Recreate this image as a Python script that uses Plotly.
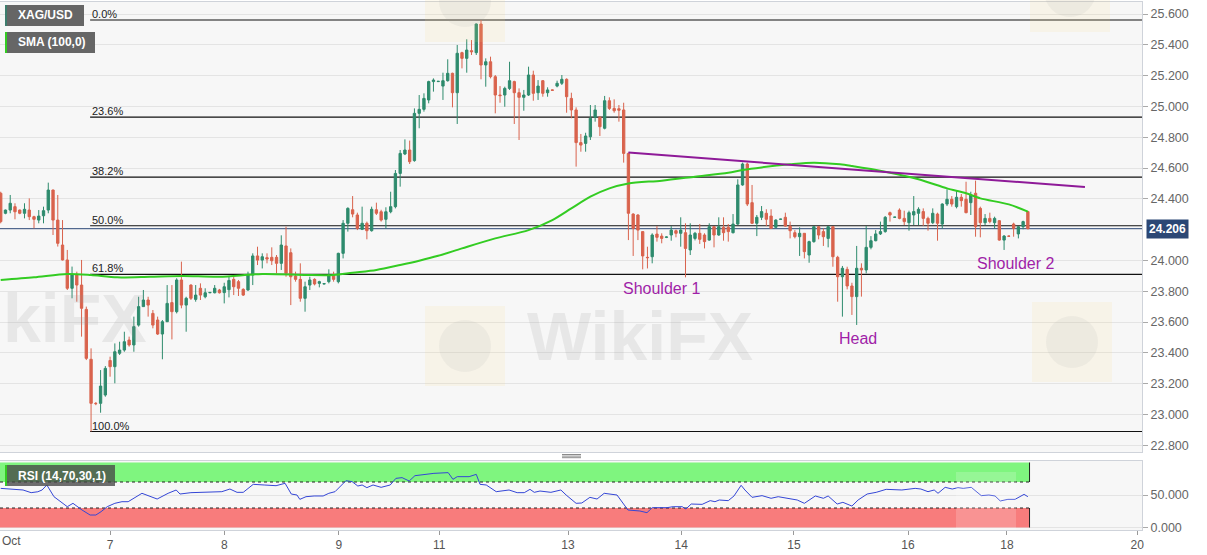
import plotly.graph_objects as go

# ---------------- data ----------------
tick_pos = [23.0, 47.0, 71.1, 92.2, 119.3, 143.1, 166.8, 190.8, 211.6, 239.0]
tick_text = ["7", "8", "9", "11", "13", "14", "15", "16", "18", "20"]
first_tick_label = "Oct"

open_ = [
    24.436, 24.306, 24.327, 24.349, 24.327, 24.306, 24.327, 24.284, 24.262, 24.290,
    24.327, 24.457, 24.262, 24.100, 24.003, 23.819, 23.905, 23.840, 23.682, 23.358,
    23.072, 23.072, 23.126, 23.350, 23.310, 23.397, 23.418, 23.483, 23.451, 23.580,
    23.700, 23.743, 23.656, 23.613, 23.522, 23.602, 23.726, 23.667, 23.873, 23.710,
    23.840, 23.747, 23.819, 23.764, 23.790, 23.790, 23.808, 23.791, 23.810, 23.877,
    23.862, 23.812, 23.808, 23.905, 24.029, 24.002, 24.018, 24.020, 24.020, 23.981,
    24.094, 24.050, 23.899, 23.877, 23.754, 23.840, 23.877, 23.851, 23.847, 23.862,
    23.905, 23.862, 24.046, 24.241, 24.329, 24.295, 24.202, 24.241, 24.193, 24.329,
    24.316, 24.267, 24.316, 24.349, 24.565, 24.691, 24.717, 24.648, 24.955, 24.981,
    25.042, 25.161, 25.161, 25.132, 25.167, 25.215, 25.089, 25.349, 25.312, 25.362,
    25.349, 25.535, 25.269, 25.290, 25.193, 25.074, 25.074, 25.117, 25.161, 25.089,
    25.059, 25.074, 25.204, 25.089, 25.167, 25.089, 25.107, 25.132, 25.150, 25.176,
    25.052, 24.977, 24.765, 24.760, 24.803, 24.929, 24.929, 24.858, 25.037, 24.987,
    24.985, 24.977, 24.695, 24.301, 24.295, 24.187, 24.020, 24.024, 24.171, 24.158,
    24.150, 24.165, 24.193, 24.176, 24.180, 24.068, 24.143, 24.176, 24.165, 24.132,
    24.219, 24.165, 24.215, 24.215, 24.180, 24.236, 24.490, 24.626, 24.375, 24.241,
    24.280, 24.306, 24.288, 24.215, 24.267, 24.280, 24.223, 24.180, 24.154, 24.176,
    24.035, 24.122, 24.219, 24.187, 24.143, 24.219, 24.020, 23.894, 23.942, 23.834,
    23.765, 23.949, 23.938, 24.085, 24.128, 24.172, 24.187, 24.310, 24.280, 24.327,
    24.273, 24.245, 24.295, 24.306, 24.317, 24.273, 24.245, 24.301, 24.236, 24.366,
    24.397, 24.349, 24.410, 24.397, 24.375, 24.436, 24.338, 24.245, 24.273, 24.245,
    24.258, 24.132, 24.158, 24.236, 24.172, 24.219, 24.317,
]
high = [
    24.446, 24.330, 24.425, 24.371, 24.330, 24.371, 24.403, 24.290, 24.327, 24.349,
    24.505, 24.460, 24.425, 24.262, 24.068, 23.960, 23.927, 24.003, 23.700, 23.429,
    23.080, 23.288, 23.314, 23.375, 23.461, 23.472, 23.537, 23.505, 23.635, 23.764,
    23.808, 23.764, 23.678, 23.635, 23.613, 23.840, 23.840, 23.884, 23.992, 23.764,
    23.845, 23.840, 23.851, 23.819, 23.795, 23.840, 23.815, 23.855, 23.899, 23.894,
    23.873, 23.819, 23.927, 24.046, 24.089, 24.046, 24.046, 24.085, 24.035, 24.163,
    24.219, 24.078, 23.927, 23.981, 23.862, 23.894, 23.884, 23.868, 23.850, 23.942,
    23.927, 24.050, 24.262, 24.345, 24.418, 24.310, 24.349, 24.252, 24.349, 24.375,
    24.329, 24.345, 24.446, 24.587, 24.717, 24.786, 24.778, 24.987, 25.074, 25.085,
    25.167, 25.182, 25.165, 25.219, 25.306, 25.219, 25.399, 25.355, 25.436, 25.431,
    25.539, 25.561, 25.312, 25.323, 25.204, 25.132, 25.128, 25.290, 25.167, 25.117,
    25.107, 25.258, 25.232, 25.171, 25.171, 25.124, 25.110, 25.167, 25.204, 25.182,
    25.089, 24.994, 24.821, 24.829, 25.009, 25.009, 24.938, 25.068, 25.059, 25.046,
    25.009, 25.024, 24.700, 24.306, 24.300, 24.187, 24.089, 24.176, 24.223, 24.176,
    24.155, 24.223, 24.200, 24.280, 24.241, 24.241, 24.185, 24.236, 24.176, 24.241,
    24.223, 24.280, 24.280, 24.236, 24.301, 24.527, 24.635, 24.635, 24.490, 24.295,
    24.353, 24.332, 24.332, 24.267, 24.270, 24.310, 24.252, 24.197, 24.215, 24.176,
    24.128, 24.223, 24.223, 24.208, 24.223, 24.223, 24.030, 23.964, 23.959, 23.855,
    24.094, 23.981, 24.223, 24.158, 24.197, 24.252, 24.288, 24.317, 24.283, 24.338,
    24.323, 24.323, 24.418, 24.345, 24.338, 24.284, 24.338, 24.310, 24.371, 24.462,
    24.418, 24.457, 24.431, 24.511, 24.446, 24.518, 24.349, 24.301, 24.310, 24.284,
    24.262, 24.165, 24.161, 24.245, 24.223, 24.258, 24.317,
]
low = [
    24.241, 24.300, 24.306, 24.267, 24.300, 24.273, 24.262, 24.208, 24.241, 24.241,
    24.306, 24.165, 24.090, 24.000, 23.808, 23.754, 23.732, 23.505, 23.353, 22.889,
    23.060, 23.011, 23.115, 23.245, 23.202, 23.386, 23.407, 23.440, 23.407, 23.570,
    23.700, 23.635, 23.559, 23.516, 23.358, 23.600, 23.487, 23.656, 23.689, 23.537,
    23.743, 23.732, 23.743, 23.754, 23.787, 23.786, 23.785, 23.721, 23.760, 23.775,
    23.769, 23.769, 23.803, 23.840, 23.970, 23.948, 23.981, 23.970, 23.916, 23.938,
    23.894, 23.710, 23.862, 23.732, 23.667, 23.808, 23.838, 23.825, 23.845, 23.851,
    23.862, 23.851, 24.013, 24.187, 24.280, 24.197, 24.197, 24.137, 24.187, 24.295,
    24.252, 24.208, 24.306, 24.338, 24.479, 24.684, 24.626, 24.641, 24.858, 24.966,
    25.020, 25.096, 25.159, 25.042, 25.161, 24.994, 24.886, 25.247, 25.219, 25.334,
    25.334, 25.176, 25.128, 25.182, 24.955, 25.024, 24.998, 25.107, 24.886, 24.782,
    24.972, 25.068, 25.037, 25.042, 25.063, 25.063, 25.100, 25.124, 25.139, 24.959,
    24.923, 24.609, 24.706, 24.706, 24.782, 24.901, 24.808, 24.851, 24.977, 24.959,
    24.901, 24.635, 24.132, 24.029, 24.132, 23.942, 23.948, 23.981, 24.122, 24.111,
    24.145, 24.128, 24.150, 24.089, 23.890, 24.035, 24.130, 24.107, 24.078, 24.128,
    24.085, 24.160, 24.128, 24.122, 24.175, 24.230, 24.485, 24.353, 24.236, 24.158,
    24.262, 24.223, 24.208, 24.208, 24.264, 24.219, 24.143, 24.143, 24.029, 24.013,
    23.985, 24.115, 24.137, 24.094, 24.085, 23.959, 23.732, 23.635, 23.812, 23.646,
    23.581, 23.765, 23.916, 24.072, 24.124, 24.165, 24.180, 24.252, 24.277, 24.267,
    24.230, 24.193, 24.230, 24.230, 24.224, 24.193, 24.236, 24.128, 24.208, 24.353,
    24.349, 24.338, 24.349, 24.306, 24.295, 24.154, 24.150, 24.230, 24.241, 24.208,
    24.128, 24.068, 24.155, 24.154, 24.143, 24.202, 24.202,
]
close = [
    24.252, 24.327, 24.371, 24.316, 24.306, 24.332, 24.284, 24.267, 24.288, 24.323,
    24.457, 24.262, 24.111, 24.003, 23.819, 23.905, 23.840, 23.689, 23.364, 23.072,
    23.070, 23.184, 23.299, 23.310, 23.407, 23.418, 23.472, 23.451, 23.570, 23.700,
    23.743, 23.710, 23.580, 23.522, 23.602, 23.721, 23.667, 23.873, 23.710, 23.754,
    23.754, 23.775, 23.775, 23.790, 23.792, 23.819, 23.790, 23.829, 23.870, 23.829,
    23.819, 23.775, 23.905, 24.029, 24.002, 24.024, 24.009, 23.998, 23.981, 24.100,
    23.916, 23.894, 23.877, 23.754, 23.829, 23.873, 23.847, 23.862, 23.849, 23.905,
    23.877, 24.046, 24.241, 24.338, 24.301, 24.208, 24.241, 24.193, 24.332, 24.306,
    24.262, 24.316, 24.349, 24.565, 24.695, 24.717, 24.641, 24.955, 24.981, 25.052,
    25.161, 25.171, 25.163, 25.167, 25.215, 25.089, 25.345, 25.312, 25.366, 25.355,
    25.535, 25.269, 25.290, 25.193, 25.074, 25.070, 25.117, 25.167, 25.089, 25.059,
    25.074, 25.204, 25.085, 25.132, 25.085, 25.107, 25.105, 25.150, 25.176, 25.063,
    24.977, 24.765, 24.749, 24.808, 24.923, 24.977, 24.868, 25.037, 24.987, 24.972,
    24.975, 24.695, 24.306, 24.208, 24.197, 24.029, 24.018, 24.165, 24.150, 24.143,
    24.152, 24.197, 24.176, 24.197, 24.078, 24.165, 24.176, 24.137, 24.122, 24.219,
    24.165, 24.219, 24.180, 24.187, 24.236, 24.490, 24.626, 24.366, 24.241, 24.280,
    24.317, 24.267, 24.208, 24.262, 24.268, 24.223, 24.193, 24.154, 24.176, 24.057,
    24.122, 24.219, 24.165, 24.154, 24.219, 24.024, 23.894, 23.949, 23.834, 23.765,
    23.949, 23.938, 24.085, 24.128, 24.172, 24.187, 24.280, 24.295, 24.281, 24.273,
    24.252, 24.310, 24.317, 24.332, 24.273, 24.241, 24.306, 24.241, 24.366, 24.397,
    24.366, 24.410, 24.388, 24.310, 24.425, 24.219, 24.245, 24.273, 24.252, 24.273,
    24.132, 24.158, 24.157, 24.208, 24.219, 24.252, 24.206,
]

# SMA(100) at sample candle positions
sma_x = [0, 7, 14, 19, 24.5, 31.4, 38.3, 46, 55, 64.4, 70, 74, 79, 84, 88, 92, 97,
         104, 111, 116, 120, 124, 128, 132, 139, 146, 153, 156, 160, 166, 171,
         176.5, 179, 186, 193, 199, 203, 206, 212, 216]
sma_v = [23.873, 23.89, 23.912, 23.905, 23.89, 23.894, 23.899, 23.894, 23.912,
         23.905, 23.905, 23.92, 23.938, 23.97, 23.998, 24.03, 24.078, 24.143,
         24.197, 24.262, 24.338, 24.414, 24.468, 24.50, 24.518, 24.544, 24.57,
         24.587, 24.604, 24.624, 24.635, 24.624, 24.613, 24.576, 24.527, 24.468,
         24.436, 24.403, 24.364, 24.317]

# RSI(14)
rsi_x = [0, 3.0, 4.7, 6.4, 7.8, 8.7, 9.7, 11.2, 14.0, 15.2,
         17.1, 18.8, 20.0, 21.1, 22.4, 24.0, 25.5, 26.8, 29.7, 32.9,
         35.2, 36.9, 37.7, 40.0, 44.8, 46.5, 48.2, 49.7, 51.0, 53.1,
         55.4, 57.9, 59.8, 61.1, 62.3, 62.9, 64.2, 65.9, 67.8, 69.0,
         70.3, 72.6, 73.9, 75.1, 76.0, 77.0, 78.3, 80.0, 81.9, 83.1,
         84.4, 85.9, 87.1, 89.2, 91.1, 94.1, 95.1, 96.0, 98.5, 100.0,
         100.8, 102.1, 104.2, 106.9, 108.6, 110.1, 111.3, 112.2, 113.4, 115.7,
         117.8, 118.9, 121.0, 122.2, 123.9, 125.4, 126.9, 129.6, 131.9, 134.4,
         135.9, 137.0, 140.1, 141.4, 143.3, 144.1, 145.2, 147.5, 149.2, 150.2,
         151.1, 153.0, 154.2, 155.7, 156.5, 158.0, 160.1, 162.0, 163.5, 167.5,
         169.0, 171.3, 173.0, 174.0, 175.9, 177.1, 179.0, 180.3, 182.2, 184.1,
         186.2, 189.5, 192.3, 193.5, 195.0, 196.3, 197.1, 198.6, 200.1, 201.3,
         202.4, 204.1, 206.2, 207.8, 209.1, 210.2, 211.8, 213.3, 215.2, 216.0]
rsi_v = [60.2, 58.7, 57.7, 53.6, 55.0, 57.7, 65.4, 47.4, 32.0, 37.2,
         26.9, 19.2, 19.2, 24.3, 32.0, 37.2, 39.7, 39.7, 52.6, 43.8,
         52.6, 57.7, 51.5, 53.6, 55.1, 55.1, 59.2, 54.1, 54.1, 66.4,
         65.4, 64.3, 68.0, 51.5, 50.0, 43.3, 47.4, 48.5, 48.5, 52.6,
         55.1, 72.0, 70.5, 63.8, 65.4, 61.3, 65.4, 61.8, 65.4, 75.6,
         76.7, 71.5, 79.7, 81.8, 83.3, 84.4, 74.1, 78.2, 78.2, 81.8,
         66.4, 65.4, 55.1, 57.7, 53.6, 53.6, 58.7, 54.1, 56.1, 54.1,
         57.7, 50.0, 37.2, 37.7, 46.4, 43.8, 52.6, 50.0, 26.9, 25.4,
         22.8, 30.5, 30.5, 32.0, 32.0, 28.5, 36.1, 35.6, 41.3, 39.7,
         42.3, 41.3, 48.5, 64.9, 57.7, 46.4, 49.0, 44.9, 47.4, 42.3,
         37.2, 48.5, 44.9, 48.5, 36.1, 38.7, 33.0, 42.3, 51.5, 54.1,
         58.7, 57.7, 60.2, 59.2, 55.1, 57.7, 52.6, 61.8, 59.2, 61.3,
         60.2, 61.8, 49.0, 50.0, 48.5, 40.8, 43.3, 43.3, 51.0, 47.4]
rsi_upper = 70
rsi_lower = 30
rsi_ticks = [0, 50]

# neckline (drawn trend line) end points
neck_x = [132, 228]
neck_v = [24.70, 24.477]

fib_ratios = [0.0, 0.236, 0.382, 0.5, 0.618, 1.0]
fib_labels = ["0.0%", "23.6%", "38.2%", "50.0%", "61.8%", "100.0%"]

pattern_labels = ["Shoulder 1", "Head", "Shoulder 2"]
pattern_x = [139.0, 180.3, 213.3]
pattern_y = [23.82, 23.496, 23.977]

price_ticks = [22.8, 23.0, 23.2, 23.4, 23.6, 23.8, 24.0, 24.4, 24.6, 24.8,
               25.0, 25.2, 25.4, 25.6]

symbol_label = "XAG/USD"
sma_label = "SMA (100,0)"
rsi_label = "RSI (14,70,30,1)"
watermark_texts = ["WikiFX", "kiFX"]   # the left copy shows only its visible part

# ---------------- layout geometry ----------------
W, H = 1207, 555
ML, MR, MT, MB = 0, 65, 2, 25
PW = W - ML - MR
PH = H - MT - MB
FONT = "Liberation Sans, Arial, sans-serif"


def pxx(x):
    return x / PW


def pyy(y):
    return (H - MB - y) / PH


x_range = [-0.15, 240.0]
main_dom = [pyy(452), 1.0]
rsi_dom = [0.0, pyy(461)]
y_range = [22.756, 25.678]
rsi_range = [-3.85, 102.3]

GREEN = "#2e8b6d"
RED = "#d9634d"
PURPLE_LINE = "#8e1a98"
PURPLE_TXT = "#a01fa8"
NAVY = "#2b4775"

idx = list(range(len(close)))
last_i = len(close) - 1

fig = go.Figure()
fig.add_trace(go.Candlestick(
    x=idx, open=open_, high=high, low=low, close=close,
    increasing=dict(line=dict(color=GREEN, width=1), fillcolor=GREEN),
    decreasing=dict(line=dict(color=RED, width=1), fillcolor=RED),
    whiskerwidth=0, showlegend=False, hoverinfo="skip",
    xaxis="x", yaxis="y",
))
fig.add_trace(go.Scatter(
    x=sma_x, y=sma_v, mode="lines",
    line=dict(color="#33cc22", width=2, shape="spline", smoothing=0.8),
    showlegend=False, hoverinfo="skip", xaxis="x", yaxis="y",
))
fig.add_trace(go.Scatter(
    x=neck_x, y=neck_v, mode="lines",
    line=dict(color=PURPLE_LINE, width=2),
    showlegend=False, hoverinfo="skip", xaxis="x", yaxis="y",
))
fig.add_trace(go.Scatter(
    x=rsi_x, y=rsi_v, mode="lines",
    line=dict(color="#3446d6", width=1),
    showlegend=False, hoverinfo="skip", xaxis="x2", yaxis="y2",
))

shapes = []
annotations = []

# Fibonacci retracement levels from swing low to swing high
hi = max(high)
lo = min(low)
i_lo = low.index(lo)
for r, lab in zip(fib_ratios, fib_labels):
    lvl = hi - r * (hi - lo)
    shapes.append(dict(type="line", xref="x", yref="y", x0=i_lo - 0.2, x1=x_range[1],
                       y0=lvl, y1=lvl, line=dict(color="#111111", width=1.2), layer="between"))
    annotations.append(dict(xref="x", yref="y", x=i_lo - 0.2, y=lvl, text=lab,
                            showarrow=False, xanchor="left", yanchor="bottom",
                            yshift=-2, font=dict(family=FONT, size=11, color="#222222")))

# current price line + label
last = close[-1]
shapes.append(dict(type="line", xref="paper", yref="y", x0=0, x1=1, y0=last, y1=last,
                   line=dict(color=NAVY, width=1), layer="between"))
annotations.append(dict(xref="paper", yref="y", x=1, y=last, text=f"<b>{last:.3f}</b>",
                        showarrow=False, xanchor="left", yanchor="middle", xshift=4,
                        bgcolor=NAVY, borderpad=2,
                        font=dict(family=FONT, size=12, color="white")))

# RSI zones
band_end = last_i + 0.35
shapes.append(dict(type="rect", xref="x2", yref="y2", x0=x_range[0], x1=band_end,
                   y0=rsi_upper, y1=100, fillcolor="#7ff57f", line=dict(width=0), layer="between"))
shapes.append(dict(type="rect", xref="x2", yref="y2", x0=x_range[0], x1=band_end,
                   y0=0, y1=rsi_lower, fillcolor="#f87c7c", line=dict(width=0), layer="between"))
for lv in (rsi_upper, rsi_lower):
    shapes.append(dict(type="line", xref="x2", yref="y2", x0=x_range[0], x1=band_end,
                       y0=lv, y1=lv, line=dict(color="#222222", width=1, dash="dot"),
                       layer="between"))
for y0, y1 in ((rsi_upper, 100), (0, rsi_lower)):
    shapes.append(dict(type="line", xref="x2", yref="y2", x0=band_end, x1=band_end,
                       y0=y0, y1=y1, line=dict(color="#222222", width=1), layer="between"))

# pattern labels
for t, xx, yy in zip(pattern_labels, pattern_x, pattern_y):
    annotations.append(dict(xref="x", yref="y", x=xx, y=yy, text=t, showarrow=False,
                            font=dict(family=FONT, size=16, color=PURPLE_TXT)))

# faint watermark logos
for (x0, y0, x1, y1) in ((425, 306, 505, 386), (1032, 302, 1112, 382),
                         (425, -40, 505, 42), (1030, -50, 1110, 32)):
    shapes.append(dict(type="rect", xref="paper", yref="paper", x0=pxx(x0), x1=pxx(x1),
                       y0=pyy(y1), y1=pyy(y0), fillcolor="rgba(250,215,130,0.13)",
                       line=dict(width=0), layer="above"))
    cx, cy = (x0 + x1) / 2, (y0 + y1) / 2
    shapes.append(dict(type="circle", xref="paper", yref="paper", x0=pxx(cx - 26), x1=pxx(cx + 26),
                       y0=pyy(cy + 26), y1=pyy(cy - 26), fillcolor="rgba(160,160,160,0.10)",
                       line=dict(width=0), layer="above"))
shapes.append(dict(type="rect", xref="paper", yref="paper", x0=pxx(956), x1=pxx(1016),
                   y0=pyy(530), y1=pyy(472), fillcolor="rgba(255,255,255,0.18)",
                   line=dict(width=0), layer="above"))

# watermark text
annotations.append(dict(xref="paper", yref="paper", x=pxx(640), y=pyy(296),
                        text=f"<b>{watermark_texts[0]}</b>", showarrow=False,
                        xanchor="center", yanchor="top",
                        font=dict(family=FONT, size=68, color="rgba(150,150,150,0.16)")))
annotations.append(dict(xref="paper", yref="paper", x=pxx(1), y=pyy(278),
                        text=f"<b>{watermark_texts[1]}</b>", showarrow=False,
                        xanchor="left", yanchor="top",
                        font=dict(family=FONT, size=68, color="rgba(150,150,150,0.16)")))


# legend-like boxes (top left and RSI)
def label_box(x0, y0, x1, y1, fill, stripe, text):
    shapes.append(dict(type="rect", xref="paper", yref="paper", x0=pxx(x0), x1=pxx(x1),
                       y0=pyy(y1), y1=pyy(y0), fillcolor=fill, line=dict(width=0), layer="above"))
    shapes.append(dict(type="rect", xref="paper", yref="paper", x0=pxx(x0), x1=pxx(x0 + 2),
                       y0=pyy(y1), y1=pyy(y0), fillcolor=stripe, line=dict(width=0), layer="above"))
    annotations.append(dict(xref="paper", yref="paper", x=pxx(x0 + 11), y=pyy((y0 + y1) / 2),
                            text=f"<b>{text}</b>", showarrow=False, xanchor="left", yanchor="middle",
                            font=dict(family=FONT, size=12, color="white")))


label_box(5, 5, 84, 26, "#666666", "#3d7d6d", symbol_label)
label_box(5, 32, 95, 53, "#666666", "#33cc22", sma_label)
label_box(5, 465, 115, 486, "rgba(70,70,70,0.78)", "#33cc22", rsi_label)

# panel splitter handle
for k in range(3):
    yy = 454.5 + k * 1.6
    shapes.append(dict(type="line", xref="paper", yref="paper", x0=pxx(562), x1=pxx(581),
                       y0=pyy(yy), y1=pyy(yy), line=dict(color="#8a8a8a", width=1), layer="above"))

# first x tick label (at the very left edge)
annotations.append(dict(xref="paper", yref="paper", x=0, y=pyy(541), text=first_tick_label,
                        showarrow=False, xanchor="left", yanchor="middle",
                        font=dict(family=FONT, size=12, color="#555555")))

axis_line = "#cfd3da"
grid = "#e4e4e4"

fig.update_layout(
    width=W, height=H,
    margin=dict(l=ML, r=MR, t=MT, b=MB),
    paper_bgcolor="white",
    plot_bgcolor="#f7f7f7",
    showlegend=False,
    font=dict(family=FONT, color="#555555"),
    xaxis=dict(domain=[0, 1], anchor="y", range=x_range, showticklabels=False,
               showgrid=False, zeroline=False, showline=True, mirror=True,
               linecolor=axis_line, rangeslider=dict(visible=False), ticks=""),
    yaxis=dict(domain=main_dom, anchor="x", side="right", range=y_range,
               tickvals=price_ticks, tickformat=".3f", ticks="outside", ticklen=5,
               tickcolor="#aaaaaa", tickfont=dict(family=FONT, size=12.5, color="#666666"),
               showgrid=True, gridcolor=grid, zeroline=False, showline=True, mirror=True,
               linecolor=axis_line),
    xaxis2=dict(domain=[0, 1], anchor="y2", range=x_range, tickvals=tick_pos,
                ticktext=tick_text, ticks="outside", ticklen=4, tickcolor="#999999",
                tickfont=dict(family=FONT, size=12, color="#555555"),
                showgrid=False, zeroline=False, showline=True, mirror=True, linecolor=axis_line),
    yaxis2=dict(domain=rsi_dom, anchor="x2", side="right", range=rsi_range,
                tickvals=rsi_ticks, tickformat=".3f", ticks="outside", ticklen=5,
                tickcolor="#aaaaaa", tickfont=dict(family=FONT, size=12.5, color="#666666"),
                showgrid=True, gridcolor=grid, zeroline=False, showline=True, mirror=True,
                linecolor=axis_line),
    shapes=shapes,
    annotations=annotations,
)

fig.write_html("out.html", config={"displayModeBar": False},
               post_script="document.body.style.margin='0';document.body.style.overflow='hidden';")
